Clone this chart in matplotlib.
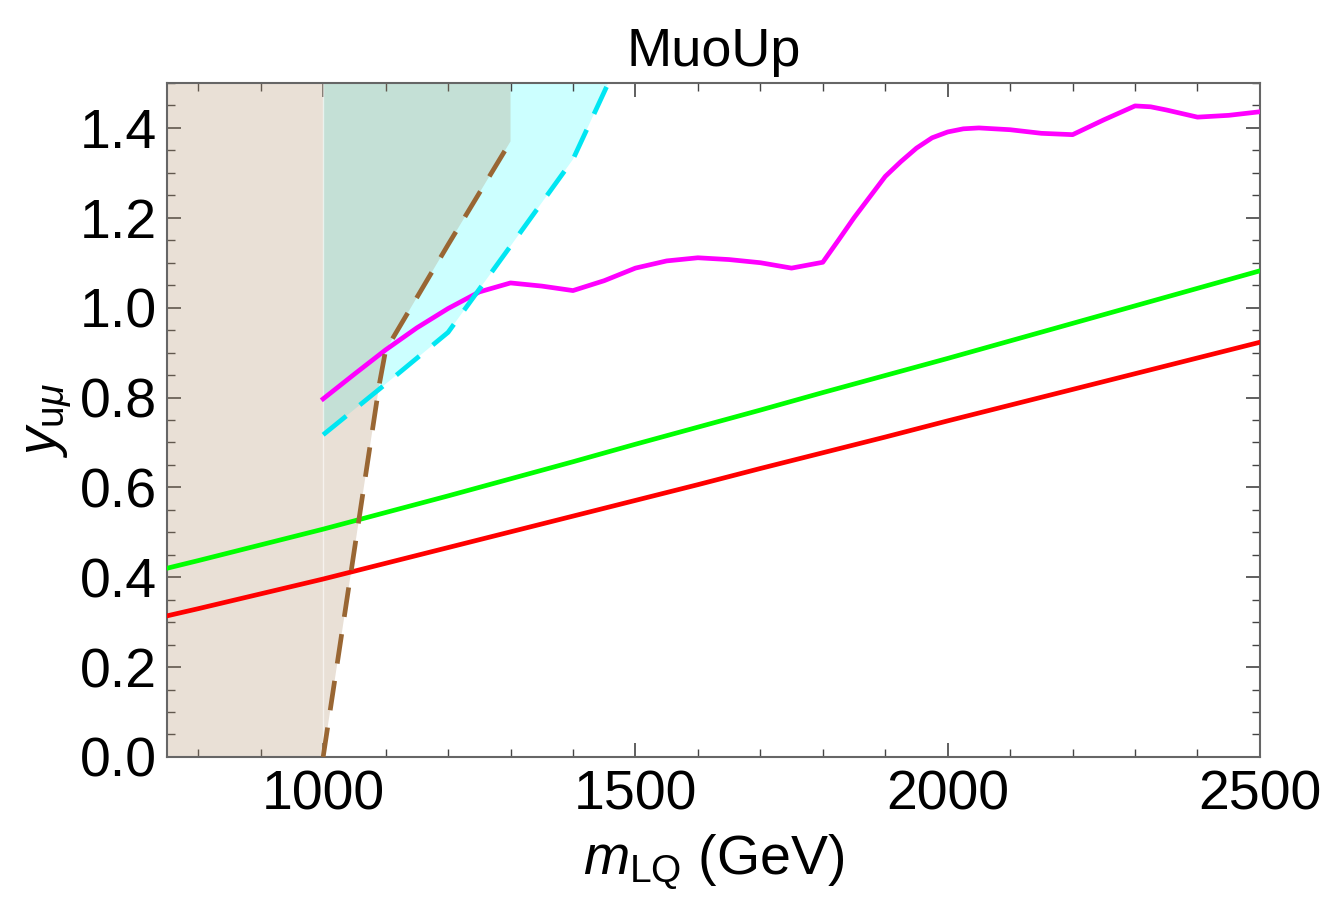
import numpy as np
import matplotlib
matplotlib.use("Agg")
import matplotlib.pyplot as plt
from matplotlib.ticker import MultipleLocator, FormatStrFormatter

plt.rcParams['font.family'] = ['Liberation Sans', 'DejaVu Sans']
plt.rcParams['mathtext.fontset'] = 'custom'
plt.rcParams['mathtext.rm'] = 'Liberation Sans'
plt.rcParams['mathtext.it'] = 'Liberation Sans:italic'

# --- data ---
mass = [750, 800, 900, 1000, 1100, 1200, 1300, 1400, 1500, 1600, 1700,
        1800, 1900, 2000, 2100, 2200, 2300, 2400, 2500]
green = [0.420, 0.437, 0.472, 0.507, 0.544, 0.581, 0.619, 0.657, 0.696, 0.734,
         0.772, 0.811, 0.849, 0.887, 0.926, 0.965, 1.004, 1.043, 1.082]
red = [0.314, 0.330, 0.363, 0.396, 0.431, 0.466, 0.501, 0.536, 0.571, 0.606,
       0.642, 0.677, 0.712, 0.748, 0.783, 0.818, 0.853, 0.888, 0.923]

mag_m = [1000, 1050, 1100, 1150, 1200, 1250, 1300, 1350, 1400, 1450, 1500,
         1550, 1600, 1650, 1700, 1750, 1800, 1825, 1850, 1900, 1925, 1950,
         1975, 2000, 2025, 2050, 2100, 2150, 2200, 2250, 2300, 2325, 2350,
         2400, 2450, 2500]
mag_y = [0.797, 0.852, 0.906, 0.955, 0.998, 1.035, 1.055, 1.048, 1.038, 1.060,
         1.088, 1.104, 1.111, 1.107, 1.100, 1.088, 1.101, 1.150, 1.200, 1.292,
         1.325, 1.355, 1.378, 1.391, 1.398, 1.400, 1.396, 1.388, 1.385, 1.418,
         1.449, 1.447, 1.440, 1.424, 1.428, 1.436]

# brown dashed boundary (tan region lies left of it)
brown_m = [1000, 1090, 1100, 1200, 1300]
brown_y = [0.0, 0.83, 0.905, 1.14, 1.37]

# cyan dashed boundary (cyan region lies above it, right of 1000)
cyan_m = [1000, 1100, 1200, 1300, 1400, 1500]
cyan_y = [0.717, 0.83, 0.945, 1.137, 1.33, 1.63]

xmin, xmax, ymin, ymax = 750, 2500, 0.0, 1.5

fig = plt.figure(figsize=(13.33, 9.11), dpi=100)
ax = fig.add_axes([0.1253, 0.1691, 0.8199, 0.7398])

# cyan excluded region
cx = [1000] + cyan_m + [cyan_m[-1], 1000]
cy = [ymax] + cyan_y + [ymax, ymax]
ax.fill(cx, cy, color=(204/255, 1.0, 1.0), lw=0, zorder=1)

# tan excluded region (semi transparent on top of cyan)
tx = [xmin, 1000] + brown_m[1:] + [brown_m[-1], xmin]
ty = [ymin, ymin] + brown_y[1:] + [ymax, ymax]
ax.fill(tx, ty, color=(175/255, 142/255, 106/255), alpha=0.275, lw=0, zorder=2)

# faint seam at 1000 GeV
ax.plot([1000, 1000], [ymin, ymax], color='white', lw=1, alpha=0.6, zorder=2.5)

lw = 3.4
ax.plot(mass, green, color=(0, 1, 0), lw=lw, zorder=4)
ax.plot(mass, red, color=(1, 0, 0), lw=lw, zorder=4)
ax.plot(mag_m, mag_y, color=(1, 0, 1), lw=lw, zorder=4, solid_joinstyle='round')
ax.plot(brown_m, brown_y, color=(0.6, 0.4, 0.2), lw=lw, dashes=(6.3, 3.7), zorder=5)
ax.plot(cyan_m, cyan_y, color=(0, 0.9, 0.95), lw=lw, dashes=(6.3, 3.7), zorder=5)

ax.set_xlim(xmin, xmax)
ax.set_ylim(ymin, ymax)

ax.xaxis.set_major_locator(MultipleLocator(500))
ax.xaxis.set_minor_locator(MultipleLocator(100))
ax.yaxis.set_major_locator(MultipleLocator(0.2))
ax.yaxis.set_minor_locator(MultipleLocator(0.05))
ax.yaxis.set_major_formatter(FormatStrFormatter('%.1f'))

ax.tick_params(which='both', direction='in', top=True, right=True, color='#444444')
ax.tick_params(which='major', length=10, width=1.2, labelsize=40)
ax.tick_params(which='minor', length=6, width=1.0)
ax.tick_params(axis='x', which='major', pad=9)
ax.tick_params(axis='y', which='major', pad=7)

for s in ax.spines.values():
    s.set_color('#666666')
    s.set_linewidth(1.5)

ax.set_title('MuoUp', fontsize=39, pad=12)
ax.set_xlabel(r'$m_{\mathrm{LQ}}$ (GeV)', fontsize=40, labelpad=8)
ax.set_ylabel(r'$y_{\mathrm{u}\mu}$', fontsize=40, labelpad=4)

fig.savefig('out.png', dpi=100)
